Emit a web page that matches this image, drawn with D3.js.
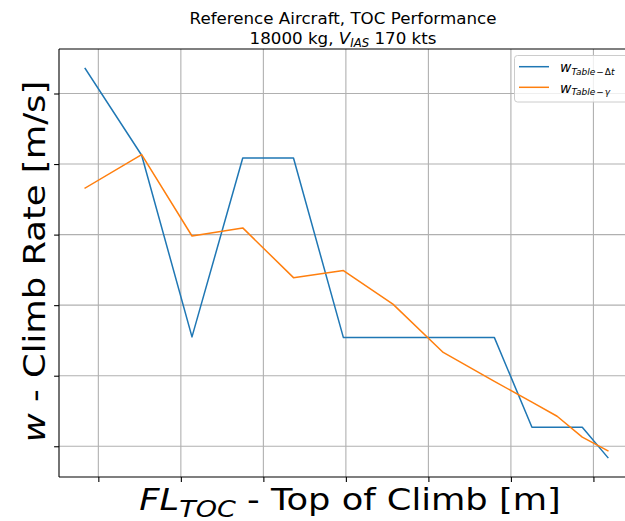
<!DOCTYPE html>
<html>
<head>
<meta charset="utf-8">
<script src="https://cdn.jsdelivr.net/npm/d3@7"></script>
<style>
  html, body { margin: 0; padding: 0; background: #fff; }
  svg { display: block; font-family: "DejaVu Sans", sans-serif; }
</style>
</head>
<body>
<svg id="chart" width="625" height="521"></svg>
<script>
// Top-of-climb level [m] at which each climb rate was evaluated
const flToc = [1840, 2525, 3135, 3750, 4365, 4970, 5570, 6180, 6800, 7255, 7560, 7865, 8175];
// Climb rate from the time-difference table [m/s]
const wTableDt = [12.71, 10.25, 5.10, 10.17, 10.17, 5.08, 5.08, 5.08, 5.08, 2.54, 2.54, 2.54, 1.68];
// Climb rate from the flight-path-angle table [m/s]
const wTableGamma = [9.32, 10.27, 7.96, 8.19, 6.78, 6.98, 6.03, 4.66, 3.84, 3.25, 2.85, 2.26, 1.87];
// Axis tick positions (labels are hidden)
const xTicks = [2000, 3000, 4000, 5000, 6000, 7000, 8000];
const yTicks = [2, 4, 6, 8, 10, 12];

const svg = d3.select("#chart");
const plot = { left: 59, right: 634, top: 49, bottom: 477 };

// Matplotlib-like 5% padding around the data extent
function padded(ext) {
  const m = (ext[1] - ext[0]) * 0.05;
  return [ext[0] - m, ext[1] + m];
}
const x = d3.scaleLinear()
  .domain(padded(d3.extent(flToc)))
  .range([plot.left, plot.right]);
const y = d3.scaleLinear()
  .domain(padded(d3.extent(wTableDt.concat(wTableGamma))))
  .range([plot.bottom, plot.top]);

// Grid
const grid = svg.append("g");
grid.selectAll(".gx").data(xTicks).join("line")
  .attr("x1", d => x(d)).attr("x2", d => x(d))
  .attr("y1", plot.top).attr("y2", plot.bottom)
  .attr("stroke", "#b0b0b0").attr("stroke-width", 1.1);
grid.selectAll(".gy").data(yTicks).join("line")
  .attr("x1", plot.left).attr("x2", plot.right)
  .attr("y1", d => y(d)).attr("y2", d => y(d))
  .attr("stroke", "#b0b0b0").attr("stroke-width", 1.1);

// Series
const series = [
  { values: wTableDt, color: "#1f77b4" },
  { values: wTableGamma, color: "#ff7f0e" }
];
const line = d3.line().x(d => x(d[0])).y(d => y(d[1]));
series.forEach(s => {
  svg.append("path")
    .datum(flToc.map((f, i) => [f, s.values[i]]))
    .attr("d", line)
    .attr("fill", "none")
    .attr("stroke", s.color)
    .attr("stroke-width", 1.5)
    .attr("stroke-linejoin", "round")
    .attr("stroke-linecap", "square");
});

// Axes (ticks only, no labels)
const xAxis = svg.append("g")
  .attr("transform", `translate(0,${plot.bottom})`)
  .call(d3.axisBottom(x).tickValues(xTicks).tickFormat("").tickSize(4.9).tickSizeOuter(0));
const yAxis = svg.append("g")
  .attr("transform", `translate(${plot.left},0)`)
  .call(d3.axisLeft(y).tickValues(yTicks).tickFormat("").tickSize(4.9).tickSizeOuter(0));
[xAxis, yAxis].forEach(a => {
  a.select(".domain").remove();
  a.selectAll(".tick line").attr("stroke", "#000").attr("stroke-width", 1.1);
});

// Spines: left, bottom, top (right lies beyond the view)
const spines = svg.append("g").attr("stroke", "#000").attr("stroke-width", 1.1);
spines.append("line").attr("x1", plot.left).attr("x2", plot.left).attr("y1", plot.top).attr("y2", plot.bottom);
spines.append("line").attr("x1", plot.left).attr("x2", plot.right).attr("y1", plot.bottom).attr("y2", plot.bottom);
spines.append("line").attr("x1", plot.left).attr("x2", plot.right).attr("y1", plot.top).attr("y2", plot.top);

// Title
const titleX = 343;
const title = svg.append("g").attr("text-anchor", "middle").attr("fill", "#000");
title.append("text").attr("x", titleX).attr("y", 23.5).attr("font-size", 16.7)
  .text("Reference Aircraft, TOC Performance");
const t2 = title.append("text").attr("x", titleX).attr("y", 43.5).attr("font-size", 16.7);
t2.append("tspan").text("18000 kg, ");
t2.append("tspan").attr("font-style", "italic").text("V");
t2.append("tspan").attr("font-style", "italic").attr("font-size", 11.7).attr("dy", 3.5).text("IAS");
t2.append("tspan").attr("dy", -3.5).text(" 170 kts");

// Axis labels (wide lettering)
const xl = svg.append("text")
  .attr("transform", "translate(350,510) scale(1.175,1)")
  .attr("text-anchor", "middle").attr("font-size", 30);
xl.append("tspan").attr("font-style", "italic").text("FL");
xl.append("tspan").attr("font-style", "italic").attr("font-size", 23).attr("dy", 7).text("TOC");
xl.append("tspan").attr("dy", -7).text(" - Top of Climb [m]");

const yl = svg.append("text")
  .attr("transform", "translate(45,261.5) rotate(-90) scale(1.18,1)")
  .attr("text-anchor", "middle").attr("font-size", 30);
yl.append("tspan").attr("font-style", "italic").text("w");
yl.append("tspan").text(" - Climb Rate [m/s]");

// Legend
const legend = svg.append("g");
legend.append("rect")
  .attr("x", 514.5).attr("y", 55.5).attr("width", 120).attr("height", 46.5)
  .attr("rx", 3).attr("fill", "#fff").attr("fill-opacity", 0.8)
  .attr("stroke", "#cccccc").attr("stroke-width", 1);
const entries = [
  { color: "#1f77b4", sub: ["Table", "\u2212", "\u0394", "t"], ly: 66.7 },
  { color: "#ff7f0e", sub: ["Table", "\u2212", "\u03b3"], ly: 87.3 }
];
entries.forEach(e => {
  legend.append("line")
    .attr("x1", 519).attr("x2", 549).attr("y1", e.ly).attr("y2", e.ly)
    .attr("stroke", e.color).attr("stroke-width", 1.5);
  const t = legend.append("text").attr("x", 560).attr("y", e.ly + 5.5).attr("font-size", 13.9);
  t.append("tspan").attr("font-style", "italic").text("w");
  const s = t.append("tspan").attr("font-size", 9).attr("dy", 2.5);
  s.append("tspan").attr("font-style", "italic").text("Table");
  s.append("tspan").attr("dx", 1).text(e.sub[1]);
  if (e.sub.length === 4) {
    s.append("tspan").attr("dx", 1).text(e.sub[2]);
    s.append("tspan").attr("font-style", "italic").text(e.sub[3]);
  } else {
    s.append("tspan").attr("dx", 1).attr("font-style", "italic").text(e.sub[2]);
  }
});
</script>
</body>
</html>
